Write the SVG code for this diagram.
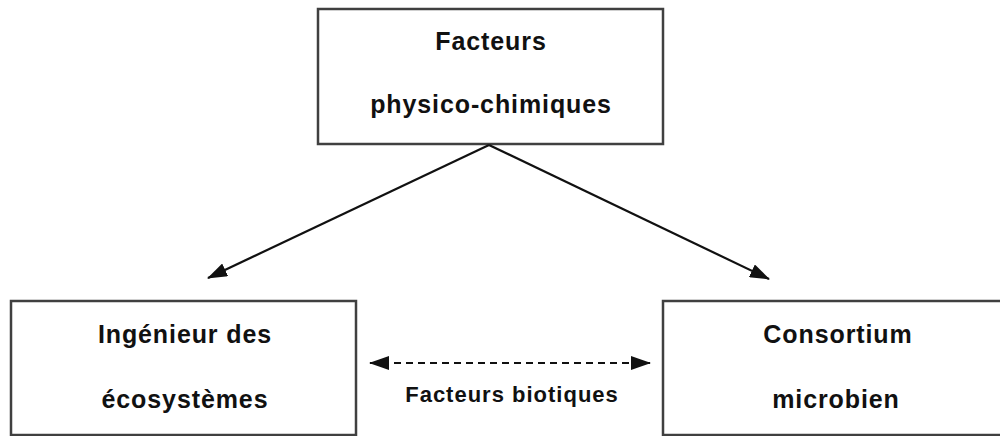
<svg xmlns="http://www.w3.org/2000/svg" width="1000" height="436" viewBox="0 0 1000 436">
<style>
.box{fill:#fff;stroke:#404040;stroke-width:2.5}
.t{font-family:"Liberation Sans",Arial,sans-serif;font-weight:bold;font-size:25px;letter-spacing:0.9px;fill:#111;text-anchor:middle}
.s{font-size:22px;letter-spacing:1px}
.c{stroke:#111;stroke-width:2.2;fill:none}
</style>
<defs>
<marker id="a2" viewBox="0 0 20 14" refX="19" refY="7" markerWidth="20" markerHeight="14" markerUnits="userSpaceOnUse" orient="auto-start-reverse">
<path d="M0,0 L20,7 L0,14 z" fill="#111"/>
</marker>
</defs>
<g id="top">
<rect class="box" x="318" y="9" width="345" height="135"/>
<text class="t" x="491" y="50">Facteurs</text>
<text class="t" x="491" y="113">physico-chimiques</text>
</g>
<g id="left">
<rect class="box" x="11" y="301" width="345" height="134"/>
<text class="t" x="185" y="343">Ingénieur des</text>
<text class="t" x="185" y="408">écosystèmes</text>
</g>
<g id="right">
<rect class="box" x="663" y="301" width="360" height="134"/>
<text class="t" x="838" y="343">Consortium</text>
<text class="t" x="836" y="408">microbien</text>
</g>
<g id="connectors">
<line class="c" x1="489" y1="145" x2="208" y2="278" marker-end="url(#a2)"/>
<line class="c" x1="489" y1="145" x2="769" y2="279" marker-end="url(#a2)"/>
<line class="c" x1="370" y1="363" x2="650" y2="363" stroke-dasharray="7,5" marker-start="url(#a2)" marker-end="url(#a2)"/>
<text class="t s" x="512" y="402">Facteurs biotiques</text>
</g>
</svg>
